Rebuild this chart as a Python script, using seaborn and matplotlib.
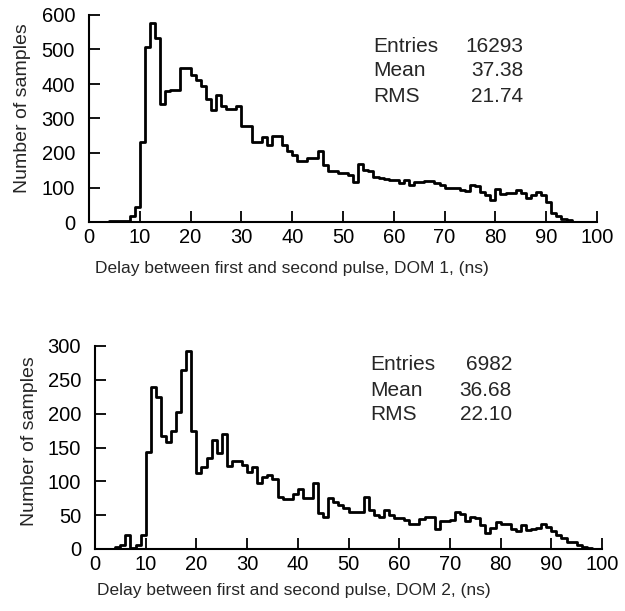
import numpy as np
import pandas as pd
import matplotlib
matplotlib.use("Agg")
import matplotlib.pyplot as plt
import seaborn as sns

# Bin counts, 1 ns bins from 0 to 100 ns
dom1_counts = [0, 0, 0, 0, 3, 3, 3, 4, 16, 43,
               232, 507, 577, 533, 343, 379, 384, 384, 446, 446,
               427, 411, 393, 357, 326, 369, 335, 328, 328, 335,
               277, 277, 231, 231, 245, 224, 250, 250, 224, 205,
               193, 176, 176, 185, 185, 205, 166, 147, 147, 142,
               142, 137, 116, 168, 152, 147, 130, 127, 125, 123,
               121, 113, 121, 108, 115, 115, 118, 120, 112, 107,
               98, 100, 100, 94, 90, 106, 103, 88, 78, 64,
               97, 80, 83, 83, 94, 83, 69, 78, 86, 78,
               59, 25, 18, 10, 5, 0, 0, 0, 0, 0]
dom2_counts = [0, 0, 0, 0, 3, 6, 20, 2, 6, 21,
               144, 240, 225, 167, 158, 175, 202, 265, 293, 175,
               112, 121, 135, 161, 142, 170, 122, 130, 130, 124,
               114, 121, 98, 107, 110, 103, 77, 74, 74, 82,
               88, 75, 75, 98, 53, 48, 76, 70, 65, 60,
               55, 55, 55, 77, 58, 50, 47, 58, 50, 46,
               46, 43, 37, 37, 45, 48, 47, 29, 42, 41,
               43, 55, 52, 41, 48, 46, 36, 24, 31, 40,
               37, 37, 30, 27, 35, 28, 30, 31, 37, 33,
               26, 21, 16, 11, 10, 6, 3, 1, 0, 0]
bin_edges = list(range(0, 101))
xlabels = ["Delay between first and second pulse, DOM 1, (ns)",
           "Delay between first and second pulse, DOM 2, (ns)"]
ylabel = "Number of samples"
stats = [[("Entries", "16293"), ("Mean", "37.38"), ("RMS", "21.74")],
         [("Entries", "6982"), ("Mean", "36.68"), ("RMS", "22.10")]]
yticks = [[0, 100, 200, 300, 400, 500, 600], [0, 50, 100, 150, 200, 250, 300]]
xticks = list(range(0, 101, 10))

sns.set_style("ticks")
plt.rcParams['font.family'] = ['Liberation Sans', 'DejaVu Sans']

W, H = 625, 611
fig = plt.figure(figsize=(W / 100, H / 100), dpi=100)

def px_rect(l, r, t, b):
    return [l / W, 1 - b / H, (r - l) / W, (b - t) / H]

axes_px = [(89, 597, 15, 222), (95, 602, 346, 549)]
xlab_px = [(292, 268), (294, 590)]
ylab_px = [(23, 108), (30, 441)]
stat_px = [(373, 523, [46, 71, 96]), (370, 512, [365, 390, 414])]

for i, counts in enumerate([dom1_counts, dom2_counts]):
    ax = fig.add_axes(px_rect(*axes_px[i]))
    centers = [e + 0.5 for e in bin_edges[:-1]]
    df = pd.DataFrame({"delay": centers, "n": counts})
    sns.histplot(data=df, x="delay", weights="n", bins=bin_edges,
                 element="step", fill=False, color="black", linewidth=2.0, ax=ax)
    ax.set_xlim(0, 100)
    ax.set_ylim(0, yticks[i][-1])
    ax.set_xticks(xticks)
    ax.set_yticks(yticks[i])
    ax.tick_params(axis="both", direction="in", length=8, width=1.3,
                   labelsize=14.5, colors="black")
    ax.tick_params(axis="x", pad=4)
    ax.tick_params(axis="y", pad=10)
    for s in ["top", "right"]:
        ax.spines[s].set_visible(False)
    for s in ["left", "bottom"]:
        ax.spines[s].set_linewidth(1.5)
        ax.spines[s].set_color("black")
    ax.set_xlabel("")
    ax.set_ylabel("")
    fig.text(xlab_px[i][0] / W, 1 - xlab_px[i][1] / H, xlabels[i],
             ha="center", va="center", fontsize=12.5)
    fig.text(ylab_px[i][0] / W, 1 - ylab_px[i][1] / H, ylabel,
             ha="center", va="center", rotation=90, fontsize=14)
    lx, rx, ys = stat_px[i]
    for (name, val), yy in zip(stats[i], ys):
        fig.text(lx / W, 1 - yy / H, name, ha="left", va="center", fontsize=15)
        fig.text(rx / W, 1 - yy / H, val, ha="right", va="center", fontsize=15)

fig.savefig("out.png", dpi=100)
